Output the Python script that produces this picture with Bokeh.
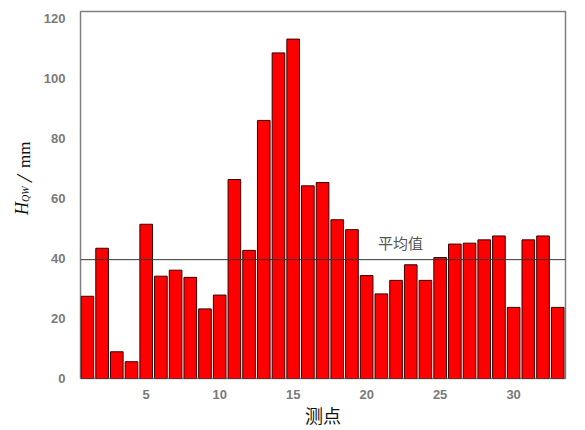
import numpy as np
from bokeh.plotting import figure
from bokeh.layouts import row
from bokeh.models import Span, Label, FixedTicker, Range1d
from bokeh.core.properties import value
from bokeh.embed import file_html
from bokeh.resources import INLINE

points = list(range(1, 34))
hqw = [27.4, 43.4, 8.9, 5.6, 51.4, 34.1, 36.1, 33.7, 23.2, 27.8,
       66.3, 42.7, 86.0, 108.5, 113.1, 64.2, 65.3, 52.9, 49.6, 34.3,
       28.2, 32.7, 37.9, 32.7, 40.3, 44.8, 45.1, 46.2, 47.5, 23.7,
       46.2, 47.5, 23.7]
mean_value = 39.6
x_ticks = [5, 10, 15, 20, 25, 30]
y_ticks = [0, 20, 40, 60, 80, 100, 120]

W, H = 577, 430
LW = 40  # width of the y-title strip
OFF = 8  # horizontal page margin

p = figure(width=W - LW, height=H, output_backend="svg", toolbar_location=None,
           x_range=Range1d(0.53, 33.53), y_range=Range1d(0, 122.3),
           min_border_left=70 - LW, min_border_right=12, min_border_top=11, min_border_bottom=51)

p.vbar(x=points, top=hqw, width=0.86, bottom=0,
       fill_color="#ff0000", line_color="#3a0000", line_width=1)

p.add_layout(Span(location=mean_value, dimension="width", line_color="#333333", line_width=1))

p.add_layout(Label(x=22.3, y=45.2, text="平均值", text_align="center", text_baseline="middle",
                   text_font="Noto Sans CJK SC", text_font_size="15px", text_color="#555555"))

p.xgrid.visible = False
p.ygrid.visible = False
p.outline_line_color = "#7f7f7f"
p.outline_line_width = 1.5

for ax in (p.xaxis[0], p.yaxis[0]):
    ax.axis_line_color = None
    ax.major_tick_line_color = None
    ax.minor_tick_line_color = None
    ax.major_label_text_font = "Liberation Sans"
    ax.major_label_text_font_style = "bold"
    ax.major_label_text_font_size = "13px"
    ax.major_label_text_color = "#7a7a7a"

p.xaxis.ticker = FixedTicker(ticks=x_ticks)
p.yaxis.ticker = FixedTicker(ticks=y_ticks)
p.xaxis.major_label_standoff = 5
p.yaxis.major_label_standoff = 9

p.xaxis.axis_label = "测点"
p.xaxis.axis_label_text_font = "Noto Sans CJK SC"
p.xaxis.axis_label_text_font_style = "normal"
p.xaxis.axis_label_text_font_size = "18px"
p.xaxis.axis_label_text_color = "#111111"
p.xaxis.axis_label_text_line_height = 1.0
p.xaxis.axis_label_standoff = 0

# y-axis title strip; coordinates are page pixels (x right, y = 430 - page y)
t = figure(width=LW, height=H, output_backend="svg", toolbar_location=None,
           x_range=Range1d(OFF, OFF + LW), y_range=Range1d(430 - 379, 430 - 11),
           min_border=0, outline_line_color=None)
t.axis.visible = False
t.grid.visible = False
t.text(x=[29.5], y=[430 - 215], text=["H"], angle=np.pi / 2, text_align="left",
       text_baseline="alphabetic", text_font=value("Liberation Serif"), text_font_style="italic",
       text_font_size="18px", text_color="#111111")
t.text(x=[32.5], y=[430 - 202], text=["QW"], angle=np.pi / 2, text_align="left",
       text_baseline="alphabetic", text_font=value("Liberation Serif"), text_font_style="italic",
       text_font_size="10px", text_color="#111111")
t.text(x=[31.5], y=[430 - 182], text=["/"], angle=np.pi / 2, text_align="left",
       text_baseline="alphabetic", text_font=value("Liberation Serif"), text_font_style="italic",
       text_font_size="24px", text_color="#111111")
t.text(x=[31.5], y=[430 - 168], text=["mm"], angle=np.pi / 2, text_align="left",
       text_baseline="alphabetic", text_font=value("Liberation Serif"),
       text_font_size="17px", text_color="#111111")

layout = row(t, p, spacing=0)
open("out.html", "w").write(file_html(layout, INLINE))
